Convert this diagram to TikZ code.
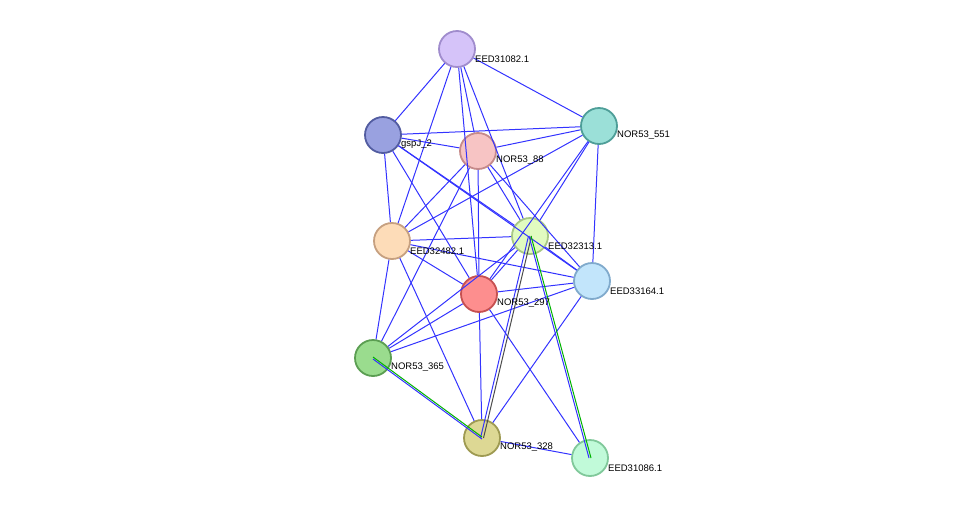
\documentclass[tikz,border=0pt]{standalone}
\usepackage{fontspec}
\setmainfont{Liberation Sans}
\tikzset{
  prot/.style = {circle, minimum size=36pt, inner sep=0pt, line width=1.8pt},
  lab/.style  = {anchor=south west, font=\fontsize{9.5pt}{10pt}\selectfont, inner sep=0pt},
  edge/.style = {draw=blue!80!white, line width=1pt}
}
\begin{document}
\begin{tikzpicture}[x=1pt,y=-1pt]
	\useasboundingbox (0,0) rectangle (976,504);

	% Proteins
	\node[prot, fill={rgb,255:red,213;green,195;blue,249}, draw={rgb,255:red,160;green,140;blue,205}] (e82) at (457,49) {};
	\node[prot, fill={rgb,255:red,153;green,161;blue,224}, draw={rgb,255:red,82;green,92;blue,160}] (gsp) at (383,135) {};
	\node[prot, fill={rgb,255:red,247;green,196;blue,196}, draw={rgb,255:red,198;green,138;blue,138}] (n88) at (478,151) {};
	\node[prot, fill={rgb,255:red,155;green,224;blue,216}, draw={rgb,255:red,78;green,158;blue,152}] (n551) at (599,126) {};
	\node[prot, fill={rgb,255:red,253;green,220;blue,184}, draw={rgb,255:red,198;green,160;blue,128}] (e482) at (392,241) {};
	\node[prot, fill={rgb,255:red,225;green,251;blue,192}, draw={rgb,255:red,168;green,200;blue,133}] (e313) at (530,236) {};
	\node[prot, fill={rgb,255:red,194;green,229;blue,251}, draw={rgb,255:red,128;green,170;blue,204}] (e164) at (592,281) {};
	\node[prot, fill={rgb,255:red,253;green,142;blue,142}, draw={rgb,255:red,198;green,80;blue,80}] (n297) at (479,294) {};
	\node[prot, fill={rgb,255:red,154;green,220;blue,142}, draw={rgb,255:red,91;green,158;blue,82}] (n365) at (373,358) {};
	\node[prot, fill={rgb,255:red,221;green,216;blue,148}, draw={rgb,255:red,158;green,154;blue,82}] (n328) at (482,438) {};
	\node[prot, fill={rgb,255:red,193;green,250;blue,217}, draw={rgb,255:red,128;green,200;blue,154}] (e086) at (590,458) {};

	% Links
	\begin{scope}[on background layer/.try]
	\foreach \a/\b in {e82/gsp,e82/n88,e82/n551,e82/e482,e82/e313,e82/n297,
	                   gsp/n88,gsp/n551,gsp/e482,gsp/e313,gsp/e164,gsp/n297,
	                   n88/n551,n88/e482,n88/e313,n88/n297,n88/n365,n88/e164,
	                   n551/e313,n551/e482,n551/n297,n551/e164,
	                   e482/e313,e482/n297,e482/e164,e482/n365,e482/n328,
	                   e313/n297,e313/e164,e313/n365,
	                   e164/n297,e164/n365,e164/n328,
	                   n297/n365,n297/n328,n297/e086,n328/e086}
	  \draw[edge] (\a) -- (\b);
	\draw[edge] ([xshift=-1.5pt]e313.center) -- ([xshift=-1.5pt]n328.center);
	\draw[black!70, line width=1pt] ([xshift=1.5pt]e313.center) -- ([xshift=1.5pt]n328.center);
	\draw[edge] ([xshift=-1pt]e313.center) -- ([xshift=-1pt]e086.center);
	\draw[green!70!black, line width=1pt] ([xshift=1pt]e313.center) -- ([xshift=1pt]e086.center);
	\draw[edge] ([yshift=-1pt]n365.center) -- ([yshift=-1pt]n328.center);
	\draw[green!70!black, line width=1pt] ([yshift=1pt]n365.center) -- ([yshift=1pt]n328.center);
	\end{scope}

	% redraw proteins on top
	\foreach \n in {e82,gsp,n88,n551,e482,e313,e164,n297,n365,n328,e086}
	  \node[prot] at (\n) {};

	% Labels
	\node[lab] at ([xshift=18pt,yshift=-14pt]e82.center) {EED31082.1};
	\node[lab] at ([xshift=18pt,yshift=-14pt]gsp.center) {gspJ\_2};
	\node[lab] at ([xshift=18pt,yshift=-14pt]n88.center) {NOR53\_88};
	\node[lab] at ([xshift=18pt,yshift=-14pt]n551.center) {NOR53\_551};
	\node[lab] at ([xshift=18pt,yshift=-14pt]e482.center) {EED32482.1};
	\node[lab] at ([xshift=18pt,yshift=-14pt]e313.center) {EED32313.1};
	\node[lab] at ([xshift=18pt,yshift=-14pt]e164.center) {EED33164.1};
	\node[lab] at ([xshift=18pt,yshift=-14pt]n297.center) {NOR53\_297};
	\node[lab] at ([xshift=18pt,yshift=-14pt]n365.center) {NOR53\_365};
	\node[lab] at ([xshift=18pt,yshift=-14pt]n328.center) {NOR53\_328};
	\node[lab] at ([xshift=18pt,yshift=-14pt]e086.center) {EED31086.1};
\end{tikzpicture}
\end{document}
